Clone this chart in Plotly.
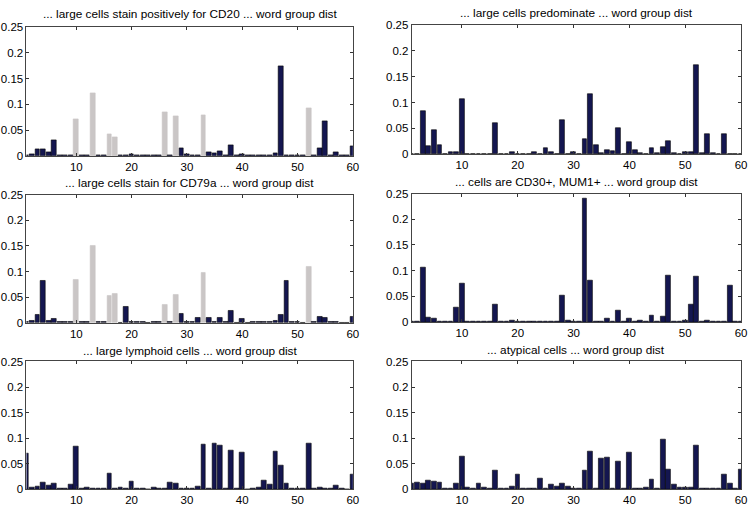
import plotly.graph_objects as go

word_groups = list(range(1, 61))

titles = [
    "... large cells stain positively for CD20 ... word group dist",
    "... large cells predominate ... word group dist",
    "... large cells stain for CD79a ... word group dist",
    "... cells are CD30+, MUM1+ ... word group dist",
    "... large lymphoid cells ... word group dist",
    "... atypical cells ... word group dist",
]

# word groups drawn in grey (highlighted) for the CD20 / CD79a panels
highlight_cd20 = [10, 13, 16, 17, 26, 28, 33, 52]
highlight_cd79a = [10, 13, 16, 17, 26, 28, 33, 52]
highlight_none = []

dist_cd20 = [0.001, 0.002, 0.013, 0.013, 0.007, 0.031, 0.001, 0.001, 0.001, 0.072,
             0.001, 0.001, 0.122, 0.001, 0.001, 0.042, 0.036, 0.001, 0.001, 0.002,
             0.001, 0.001, 0.001, 0.001, 0.001, 0.085, 0.001, 0.077, 0.014, 0.002,
             0.001, 0.001, 0.079, 0.006, 0.004, 0.008, 0.001, 0.021, 0.001, 0.002,
             0.001, 0.001, 0.001, 0.001, 0.001, 0.005, 0.174, 0.001, 0.001, 0.001,
             0.001, 0.092, 0.001, 0.014, 0.068, 0.001, 0.006, 0.001, 0.001, 0.019]

dist_predominate = [0.001, 0.001, 0.083, 0.016, 0.046, 0.017, 0.001, 0.004, 0.005, 0.107,
                    0.001, 0.001, 0.001, 0.001, 0.001, 0.061, 0.001, 0.001, 0.005, 0.001,
                    0.001, 0.001, 0.004, 0.001, 0.012, 0.004, 0.001, 0.067, 0.001, 0.005,
                    0.001, 0.029, 0.116, 0.018, 0.003, 0.007, 0.006, 0.051, 0.001, 0.023,
                    0.008, 0.003, 0.001, 0.011, 0.002, 0.014, 0.026, 0.003, 0.001, 0.004,
                    0.004, 0.173, 0.003, 0.039, 0.002, 0.001, 0.039, 0.001, 0.001, 0.001]

dist_cd79a = [0.001, 0.003, 0.015, 0.081, 0.004, 0.008, 0.001, 0.001, 0.002, 0.083,
              0.001, 0.001, 0.150, 0.001, 0.001, 0.052, 0.056, 0.0005, 0.032, 0.002,
              0.001, 0.001, 0.0005, 0.001, 0.001, 0.036, 0.001, 0.055, 0.018, 0.001,
              0.001, 0.009, 0.098, 0.010, 0.001, 0.010, 0.001, 0.023, 0.0005, 0.007,
              0.0005, 0.001, 0.001, 0.001, 0.001, 0.003, 0.016, 0.082, 0.001, 0.001,
              0.0005, 0.110, 0.001, 0.012, 0.009, 0.001, 0.001, 0.0005, 0.0005, 0.011]

dist_cd30 = [0.001, 0.002, 0.106, 0.009, 0.008, 0.001, 0.0005, 0.001, 0.028, 0.075,
             0.002, 0.001, 0.001, 0.001, 0.001, 0.035, 0.001, 0.0005, 0.003, 0.001,
             0.001, 0.001, 0.0005, 0.001, 0.001, 0.001, 0.001, 0.052, 0.004, 0.002,
             0.002, 0.241, 0.080, 0.0005, 0.002, 0.008, 0.002, 0.023, 0.0005, 0.008,
             0.0005, 0.003, 0.002, 0.012, 0.002, 0.010, 0.090, 0.002, 0.002, 0.004,
             0.035, 0.088, 0.002, 0.004, 0.002, 0.0005, 0.001, 0.071, 0.0005, 0.0005]

dist_lymphoid = [0.071, 0.003, 0.006, 0.013, 0.008, 0.012, 0.001, 0.001, 0.009, 0.084,
                 0.001, 0.003, 0.001, 0.001, 0.001, 0.032, 0.001, 0.004, 0.001, 0.015,
                 0.001, 0.001, 0.0005, 0.004, 0.001, 0.001, 0.013, 0.011, 0.001, 0.001,
                 0.002, 0.006, 0.087, 0.001, 0.090, 0.085, 0.001, 0.077, 0.001, 0.073,
                 0.0005, 0.002, 0.004, 0.017, 0.009, 0.075, 0.047, 0.011, 0.001, 0.002,
                 0.001, 0.090, 0.001, 0.004, 0.002, 0.001, 0.008, 0.001, 0.0005, 0.030]

dist_atypical = [0.012, 0.014, 0.012, 0.017, 0.016, 0.014, 0.001, 0.001, 0.012, 0.064,
                 0.004, 0.001, 0.011, 0.004, 0.001, 0.037, 0.001, 0.001, 0.005, 0.030,
                 0.001, 0.001, 0.001, 0.021, 0.001, 0.010, 0.005, 0.011, 0.006, 0.002,
                 0.001, 0.037, 0.074, 0.001, 0.061, 0.062, 0.001, 0.054, 0.001, 0.072,
                 0.001, 0.001, 0.003, 0.020, 0.001, 0.098, 0.039, 0.009, 0.003, 0.004,
                 0.004, 0.085, 0.001, 0.002, 0.001, 0.001, 0.030, 0.011, 0.001, 0.038]

x_ticks = [10, 20, 30, 40, 50, 60]
y_ticks = [0, 0.05, 0.1, 0.15, 0.2, 0.25]
y_tick_text = ["0", "0.05", "0.1", "0.15", "0.2", "0.25"]

panels = [
    (dist_cd20, highlight_cd20),
    (dist_predominate, highlight_none),
    (dist_cd79a, highlight_cd79a),
    (dist_cd30, highlight_none),
    (dist_lymphoid, highlight_none),
    (dist_atypical, highlight_none),
]

W, H = 754, 513
NAVY = "#141650"
GREY = "#cac6c6"

# pixel boxes (left, right, top, bottom) of each plot area
boxes = [
    (26.7, 355.7, 21.7, 153.3), (415.0, 747.0, 19.5, 151.7),
    (26.7, 355.7, 193.3, 324.3), (415.0, 747.0, 192.0, 323.7),
    (26.7, 355.7, 364.0, 495.0), (415.0, 747.0, 364.0, 495.0),
]
title_y = [8.5, 7.5, 181.5, 180.0, 353.0, 352.0]

fig = go.Figure()
layout = {}
annotations = []
for i, ((vals, hl), box, ty, title) in enumerate(zip(panels, boxes, title_y, titles)):
    n = i + 1
    xa = "x" if n == 1 else f"x{n}"
    ya = "y" if n == 1 else f"y{n}"
    colors = [GREY if g in hl else NAVY for g in word_groups]
    lcolors = [GREY if g in hl else "#000000" for g in word_groups]
    fig.add_trace(go.Bar(
        x=word_groups, y=vals, xaxis=xa, yaxis=ya, width=0.86,
        marker=dict(color=colors, line=dict(color=lcolors, width=0.6)),
        showlegend=False, hoverinfo="x+y",
    ))
    l, r, t, b = box
    xkey = "xaxis" if n == 1 else f"xaxis{n}"
    ykey = "yaxis" if n == 1 else f"yaxis{n}"
    layout[xkey] = dict(
        domain=[l / W, r / W], anchor=ya, range=[1, 60],
        tickvals=x_ticks, ticks="inside", ticklen=3, tickcolor="#333333",
        showline=True, linecolor="#444444", linewidth=1, mirror="ticks",
        showgrid=False, zeroline=False, tickfont=dict(size=11.5, color="#000000"),
    )
    layout[ykey] = dict(
        domain=[1 - b / H, 1 - t / H], anchor=xa, range=[0, 0.25],
        tickvals=y_ticks, ticktext=y_tick_text, ticks="inside", ticklen=3,
        tickcolor="#333333", showline=True, linecolor="#444444", linewidth=1,
        mirror="ticks", showgrid=False, zeroline=False,
        tickfont=dict(size=11.5, color="#000000"),
    )
    annotations.append(dict(
        text=title, xref="paper", yref="paper", x=(l + r) / 2 / W, y=1 - ty / H,
        xanchor="center", yanchor="middle", showarrow=False,
        font=dict(size=11.8, color="#000000"),
    ))

fig.update_layout(
    width=W, height=H, margin=dict(l=0, r=0, t=0, b=0),
    paper_bgcolor="white", plot_bgcolor="white", bargap=0,
    font=dict(family="Liberation Sans, Arial, sans-serif"),
    annotations=annotations, **layout,
)

fig.write_html(
    "out.html",
    config={"displayModeBar": False},
    post_script="document.body.style.margin='0';document.body.style.overflow='hidden';",
)
